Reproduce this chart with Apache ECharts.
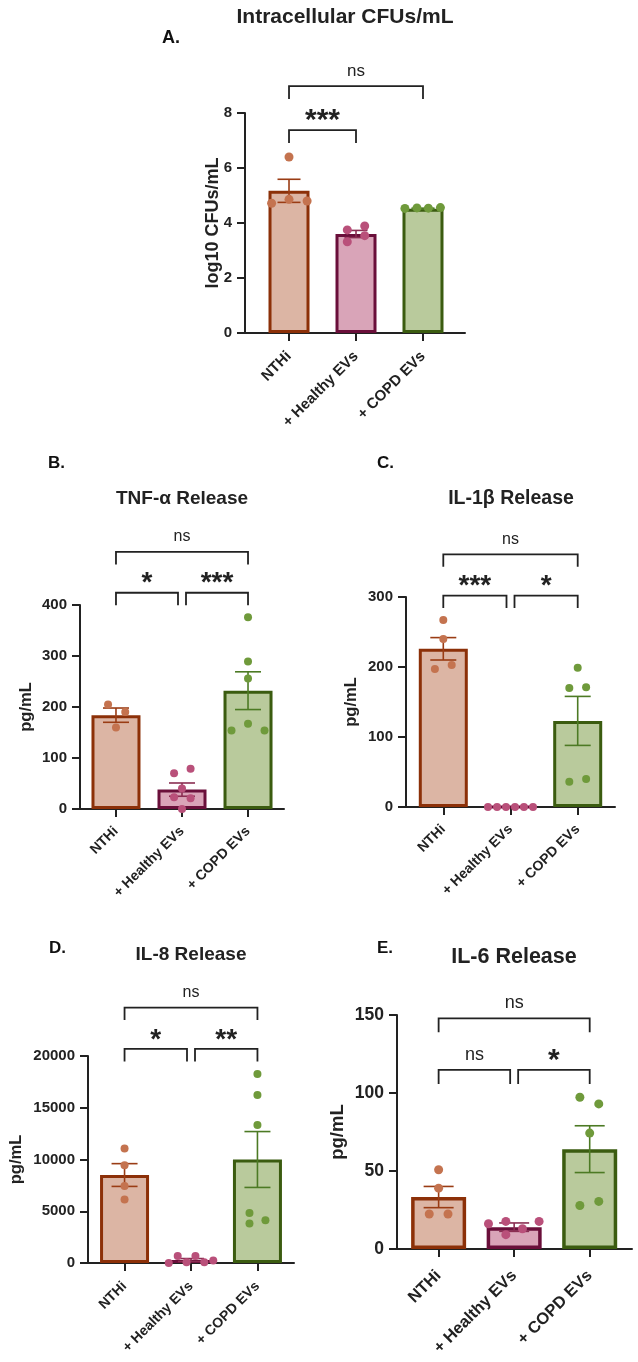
<!DOCTYPE html>
<html>
<head>
<meta charset="utf-8">
<script src="https://cdn.jsdelivr.net/npm/echarts@6/dist/echarts.min.js"></script>
<style>
  html, body { margin: 0; padding: 0; background: #fff; }
  #chart { width: 638px; height: 1362px; }
</style>
</head>
<body>
<div id="chart"></div>
<script>
const groups = ['NTHi', '+ Healthy EVs', '+ COPD EVs']

// A. intracellular CFUs (log10)
const cfuNthi = [6.4, 4.72, 4.86, 4.8]
const cfuHealthy = [3.75, 3.89, 3.32, 3.54]
const cfuCopd = [4.53, 4.55, 4.54, 4.56]
const cfuMean = [5.17, 3.6, 4.52]
const cfuSem = [0.42, 0.13, 0.02]
const cfuJitter = [[0, -0.26, 0, 0.27], [-0.13, 0.13, -0.13, 0.13], [-0.27, -0.09, 0.08, 0.26]]
const cfuSig = [[0, 1, 7.38, '***'], [0, 2, 8.98, 'ns']]

// B. TNF-a
const tnfNthi = [205, 190, 160]
const tnfHealthy = [70, 79, 40, 23, 21, 0]
const tnfCopd = [376, 289, 256, 154, 167, 154]
const tnfMean = [184, 38, 232]
const tnfSem = [14, 13, 37]
const tnfJitter = [[-0.12, 0.14, 0], [-0.12, 0.13, 0, -0.12, 0.13, 0], [0, 0, 0, -0.25, 0, 0.25]]
const tnfSig = [[0, 1, 424, '*'], [1, 2, 424, '***'], [0, 2, 504, 'ns']]

// C. IL-1b
const il1Nthi = [267, 240, 197, 203]
const il1Healthy = [0, 0, 0, 0, 0, 0]
const il1Copd = [199, 170, 171, 36, 40]
const il1Mean = [226, 0, 123]
const il1Sem = [16, 0, 35]
const il1Jitter = [[0, 0, -0.125, 0.125], [-0.335, -0.2, -0.067, 0.067, 0.2, 0.335], [0, -0.125, 0.125, -0.125, 0.125]]
const il1Sig = [[0, 1, 302, '***'], [1, 2, 302, '*'], [0, 2, 361, 'ns']]

// D. IL-8
const il8Nthi = [11070, 9450, 7450, 6140]
const il8Healthy = [0, 680, 70, 680, 70, 230]
const il8Copd = [18260, 16230, 13330, 4840, 3810, 4130]
const il8Mean = [8500, 290, 10000]
const il8Sem = [1100, 140, 2700]
const il8Jitter = [[0, 0, 0, 0], [-0.335, -0.2, -0.067, 0.067, 0.2, 0.335], [0, 0, 0, -0.12, -0.12, 0.12]]
const il8Sig = [[0, 1, 20680, '*'], [1, 2, 20680, '**'], [0, 2, 24680, 'ns']]

// E. IL-6
const il6Nthi = [50.8, 39, 22.4, 22.4]
const il6Healthy = [16.2, 17.7, 9.2, 13, 17.7]
const il6Copd = [97.3, 93, 74.3, 27.9, 30.5]
const il6Mean = [33.3, 14, 64]
const il6Sem = [6.8, 2.7, 15]
const il6Jitter = [[0, 0, -0.124, 0.124], [-0.34, -0.11, -0.11, 0.11, 0.33], [-0.13, 0.12, 0, -0.13, 0.12]]
const il6Sig = [[0, 1, 114.8, 'ns'], [1, 2, 114.8, '*'], [0, 2, 147.9, 'ns']]

const fills = ['#dcb5a4', '#d9a4b8', '#b9ca9c']
const borders = ['#8c3008', '#6a0f3a', '#3b5c10']
const dotColors = ['#c4734f', '#b9507a', '#6f9a3b']
const errColors = ['#9a3c14', '#8a2e52', '#4c7a24']
const ink = '#222'
const font = '"Liberation Sans", Arial, sans-serif'

const panels = [
  {
    letter: 'A.', letterX: 162, letterY: 38, letterSize: 18,
    title: 'Intracellular CFUs/mL', titleX: 345, titleY: 17, titleSize: 21,
    grid: { left: 245, top: 113, width: 220, height: 220 }, xMin: -0.657, xMax: 2.627,
    yMax: 8, yInt: 2, yName: 'log10 CFUs/mL', nameGap: 23, nameSize: 18,
    tickSize: 15, catSize: 15, catMargin: 21, barWidth: 41, border: 3, cap: 23, dot: 9, leg: 13, nsSize: 17, starSize: 30,
    values: [cfuNthi, cfuHealthy, cfuCopd], jitter: cfuJitter, mean: cfuMean, sem: cfuSem, sig: cfuSig
  },
  {
    letter: 'B.', letterX: 48, letterY: 463, letterSize: 17,
    title: 'TNF-α Release', titleX: 182, titleY: 499, titleSize: 19,
    grid: { left: 80, top: 605, width: 204, height: 204 }, xMin: -0.545, xMax: 2.545,
    yMax: 400, yInt: 100, yName: 'pg/mL', nameGap: 45, nameSize: 16.5,
    tickSize: 15, catSize: 14, catMargin: 20, barWidth: 49, border: 3, cap: 26, dot: 8, leg: 12.5, nsSize: 16, starSize: 28,
    values: [tnfNthi, tnfHealthy, tnfCopd], jitter: tnfJitter, mean: tnfMean, sem: tnfSem, sig: tnfSig
  },
  {
    letter: 'C.', letterX: 377, letterY: 463, letterSize: 17,
    title: 'IL-1β Release', titleX: 511, titleY: 499, titleSize: 19.5,
    grid: { left: 406, top: 597, width: 209, height: 210 }, xMin: -0.555, xMax: 2.555,
    yMax: 300, yInt: 100, yName: 'pg/mL', nameGap: 46, nameSize: 16.5,
    tickSize: 15, catSize: 14, catMargin: 20, barWidth: 49, border: 3, cap: 26, dot: 8, leg: 12.5, nsSize: 16, starSize: 28,
    values: [il1Nthi, il1Healthy, il1Copd], jitter: il1Jitter, mean: il1Mean, sem: il1Sem, sig: il1Sig
  },
  {
    letter: 'D.', letterX: 49, letterY: 948, letterSize: 17,
    title: 'IL-8 Release', titleX: 191, titleY: 955, titleSize: 19,
    grid: { left: 88, top: 1056, width: 206, height: 207 }, xMin: -0.55, xMax: 2.55,
    yMax: 20000, yInt: 5000, yName: 'pg/mL', nameGap: 63, nameSize: 16.5,
    tickSize: 15, catSize: 14, catMargin: 21, barWidth: 49, border: 3, cap: 26, dot: 8, leg: 12.5, nsSize: 16, starSize: 28,
    values: [il8Nthi, il8Healthy, il8Copd], jitter: il8Jitter, mean: il8Mean, sem: il8Sem, sig: il8Sig
  },
  {
    letter: 'E.', letterX: 377, letterY: 948, letterSize: 17,
    title: 'IL-6 Release', titleX: 514, titleY: 957, titleSize: 21.5,
    grid: { left: 397, top: 1015, width: 235, height: 234 }, xMin: -0.551, xMax: 2.56,
    yMax: 150, yInt: 50, yName: 'pg/mL', nameGap: 50, nameSize: 18.5,
    tickSize: 17.5, catSize: 16.5, catMargin: 24, barWidth: 55, border: 3.5, cap: 30, dot: 9, leg: 14, nsSize: 18, starSize: 30,
    values: [il6Nthi, il6Healthy, il6Copd], jitter: il6Jitter, mean: il6Mean, sem: il6Sem, sig: il6Sig
  }
]

const grids = []
const xAxes = []
const yAxes = []
const series = []
const graphics = []

panels.forEach((p, i) => {
  grids.push(Object.assign({ outerBoundsMode: 'none', containLabel: false }, p.grid))

  xAxes.push({
    type: 'value', gridIndex: i, min: p.xMin, max: p.xMax,
    splitLine: { show: false },
    axisLine: { show: true, onZero: false, lineStyle: { color: ink, width: 2 } },
    axisTick: { show: true, length: 8, customValues: [0, 1, 2], lineStyle: { color: ink, width: 2 } },
    axisLabel: {
      customValues: [0, 1, 2], rotate: 45, margin: p.catMargin,
      fontSize: p.catSize, fontWeight: 'bold', fontFamily: font, color: ink,
      formatter: v => groups[Math.round(v)]
    }
  })

  yAxes.push({
    type: 'value', gridIndex: i, min: 0, max: p.yMax, interval: p.yInt,
    splitLine: { show: false },
    axisLine: { show: true, onZero: false, lineStyle: { color: ink, width: 2 } },
    axisTick: { show: true, length: 8, lineStyle: { color: ink, width: 2 } },
    axisLabel: { fontSize: p.tickSize, fontWeight: 'bold', fontFamily: font, color: ink, margin: 13, formatter: v => String(v) },
    name: p.yName, nameLocation: 'middle', nameGap: p.nameGap, nameMoveOverlap: false,
    nameTextStyle: { fontSize: p.nameSize, fontWeight: 'bold', fontFamily: font, color: ink }
  })

  // bars (group means)
  series.push({
    type: 'bar', xAxisIndex: i, yAxisIndex: i, barWidth: p.barWidth, z: 2, silent: true,
    data: p.mean.map((m, g) => ({
      value: [g, m],
      itemStyle: { color: fills[g], borderColor: borders[g], borderWidth: p.border }
    }))
  })

  // SEM error bars
  series.push({
    type: 'custom', xAxisIndex: i, yAxisIndex: i, z: 3, silent: true,
    data: p.mean.map((m, g) => [g, m, p.sem[g]]),
    renderItem: (params, api) => {
      const g = api.value(0), m = api.value(1), s = api.value(2)
      if (!s) return null
      const top = api.coord([g, m + s])
      const bot = api.coord([g, m - s])
      const hw = p.cap / 2
      const st = { stroke: errColors[g], lineWidth: 1.6, fill: null }
      return {
        type: 'group',
        children: [
          { type: 'polyline', shape: { points: [top, bot] }, style: st },
          { type: 'polyline', shape: { points: [[top[0] - hw, top[1]], [top[0] + hw, top[1]]] }, style: st },
          { type: 'polyline', shape: { points: [[bot[0] - hw, bot[1]], [bot[0] + hw, bot[1]]] }, style: st }
        ]
      }
    }
  })

  // individual points
  const pts = []
  p.values.forEach((vals, g) => vals.forEach((v, k) => pts.push([g + p.jitter[g][k], v, g])))
  series.push({
    type: 'scatter', xAxisIndex: i, yAxisIndex: i, z: 4, silent: true,
    symbol: 'circle', symbolSize: p.dot,
    itemStyle: { color: prm => dotColors[prm.data[2]], opacity: 1 },
    data: pts
  })

  // significance brackets
  series.push({
    type: 'custom', xAxisIndex: i, yAxisIndex: i, z: 5, silent: true, clip: false,
    data: p.sig.map(s => [s[0], s[2]]),
    renderItem: (params, api) => {
      const s = p.sig[params.dataIndex]
      const a = api.coord([s[0], s[2]])
      const b = api.coord([s[1], s[2]])
      const shareL = p.sig.some(o => o !== s && o[2] === s[2] && o[1] === s[0])
      const shareR = p.sig.some(o => o !== s && o[2] === s[2] && o[0] === s[1])
      const x0 = a[0] + (shareL ? 4 : 0)
      const x1 = b[0] - (shareR ? 4 : 0)
      const y = a[1]
      const star = s[3].indexOf('*') >= 0
      return {
        type: 'group',
        children: [
          {
            type: 'polyline',
            shape: { points: [[x0, y + p.leg], [x0, y], [x1, y], [x1, y + p.leg]] },
            style: { stroke: ink, lineWidth: 1.8, fill: null }
          },
          {
            type: 'text', x: (x0 + x1) / 2, y: star ? y - 9 : y - 15,
            style: {
              text: s[3], fill: ink, fontFamily: font,
              fontSize: star ? p.starSize : p.nsSize, fontWeight: star ? 'bold' : 'normal',
              align: 'center', verticalAlign: 'middle'
            }
          }
        ]
      }
    }
  })

  graphics.push({
    type: 'text', x: p.letterX, y: p.letterY,
    style: { text: p.letter, fill: '#111', fontFamily: font, fontSize: p.letterSize, fontWeight: 'bold', align: 'left', verticalAlign: 'middle' }
  })
  graphics.push({
    type: 'text', x: p.titleX, y: p.titleY,
    style: { text: p.title, fill: ink, fontFamily: font, fontSize: p.titleSize, fontWeight: 'bold', align: 'center', verticalAlign: 'middle' }
  })
})

const chart = echarts.init(document.getElementById('chart'))
chart.setOption({
  backgroundColor: '#fff',
  animation: false,
  grid: grids,
  xAxis: xAxes,
  yAxis: yAxes,
  series: series,
  graphic: graphics
})
</script>
</body>
</html>
